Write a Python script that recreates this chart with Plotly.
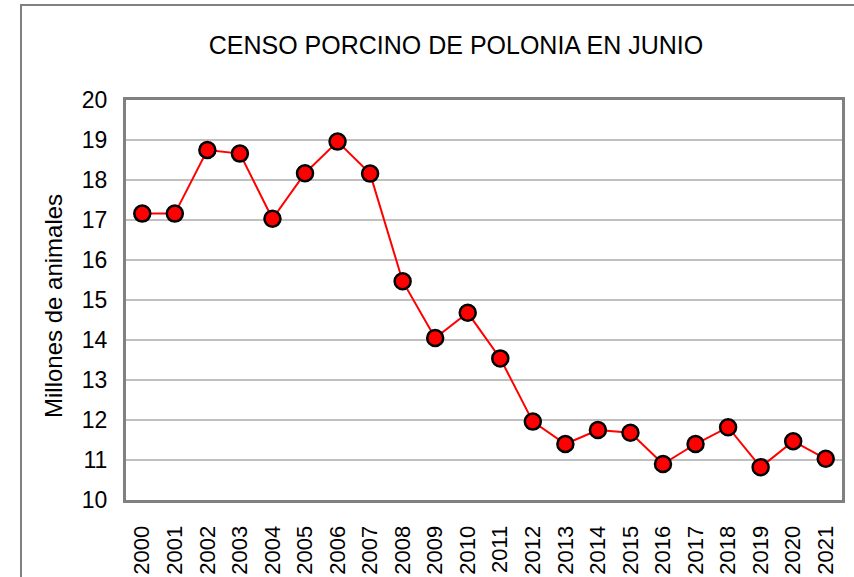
import plotly.graph_objects as go

years = [str(y) for y in range(2000, 2022)]
values = [17.16, 17.16, 18.75, 18.66, 17.03, 18.17, 18.96, 18.16, 15.47, 14.05,
          14.68, 13.54, 11.96, 11.40, 11.75, 11.68, 10.90, 11.40, 11.82, 10.82,
          11.47, 11.03]
y_ticks = list(range(10, 21))

title_text = "CENSO PORCINO DE POLONIA EN JUNIO"
y_title = "Millones de animales"

FONT = "Liberation Sans, Arial, sans-serif"
W, H = 854, 577
PL, PT, PR, PB = 126, 100, 842, 500  # plot area in screen pixels
L, T = PL, PT
R, B = W - PR, H - PB
pw, ph = PR - PL, PB - PT

fig = go.Figure()
fig.add_trace(go.Scatter(
    x=years, y=values, mode="lines+markers",
    line=dict(color="#ff0000", width=2),
    marker=dict(size=16, color="#ff0000", line=dict(color="#000000", width=2.5)),
    showlegend=False, cliponaxis=False,
))

fig.update_layout(
    width=W, height=H,
    margin=dict(l=L, r=R, t=T, b=B, autoexpand=False),
    paper_bgcolor="white", plot_bgcolor="white",
    font=dict(family=FONT, color="black", size=23),
    title=dict(text=title_text, x=456 / W, xanchor="center", xref="container",
               y=1 - 45 / H, yanchor="middle", yref="container",
               font=dict(family=FONT, size=25, color="black")),
    xaxis=dict(type="category", categoryorder="array", categoryarray=years,
               tickangle=-90, showgrid=False, showline=True, linecolor="#808080",
               linewidth=3, mirror=True, ticks="outside", ticklen=14,
               tickcolor="rgba(0,0,0,0)", tickfont=dict(size=22, family=FONT),
               range=[-0.5, len(years) - 0.5], fixedrange=True, automargin=False),
    yaxis=dict(range=[10, 20], tickvals=y_ticks, showgrid=True,
               gridcolor="#c0c0c0", gridwidth=2, showline=True, linecolor="#808080",
               linewidth=3, mirror=True, ticks="outside", ticklen=11,
               tickcolor="rgba(0,0,0,0)", tickfont=dict(size=23, family=FONT),
               zeroline=False, fixedrange=True, automargin=False),
    annotations=[dict(text=y_title, xref="paper", yref="paper",
                      x=(53 - PL) / pw, y=(PB - 306) / ph, textangle=-90,
                      showarrow=False, xanchor="center", yanchor="middle",
                      font=dict(family=FONT, size=24, color="black"))],
    shapes=[dict(type="rect", xref="paper", yref="paper",
                 x0=(21 - PL) / pw, x1=(W + 10 - PL) / pw,
                 y0=(PB - (H + 10)) / ph, y1=(PB - 5) / ph,
                 line=dict(color="#808080", width=2), fillcolor="rgba(0,0,0,0)",
                 layer="below")],
)

fig.write_html("out.html",
               config={"displayModeBar": False, "staticPlot": True},
               post_script="document.body.style.margin='0';document.body.style.overflow='hidden';")
